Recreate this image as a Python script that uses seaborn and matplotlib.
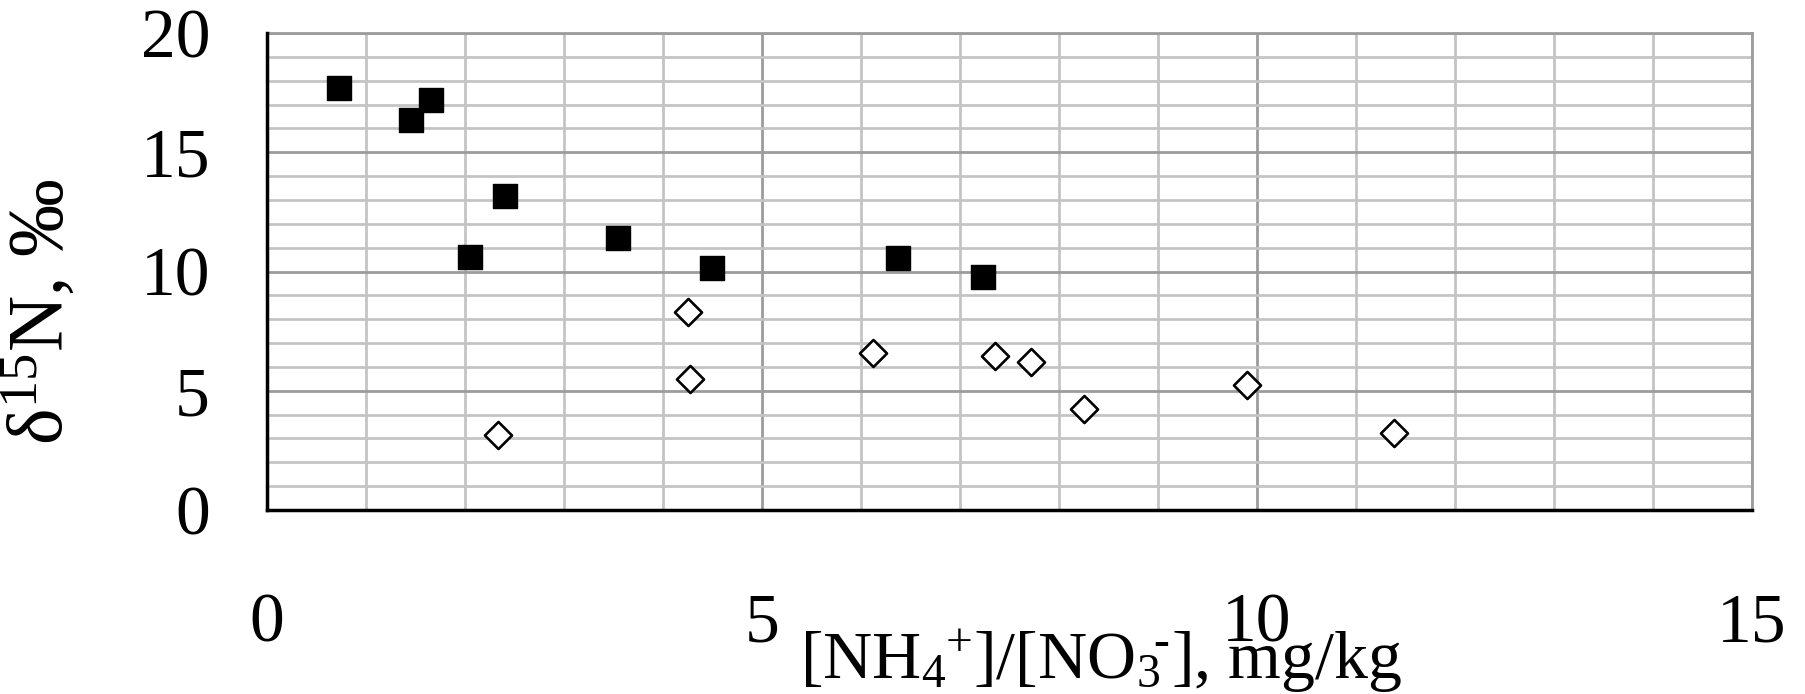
import seaborn as sns
import matplotlib.pyplot as plt
import pandas as pd

# data
sq_x = [0.73, 1.45, 1.66, 2.05, 2.40, 3.55, 4.50, 6.37, 7.23]
sq_y = [17.7, 16.35, 17.2, 10.6, 13.15, 11.4, 10.15, 10.55, 9.75]
dm_x = [2.33, 4.25, 4.27, 6.12, 7.35, 7.72, 8.25, 9.90, 11.38]
dm_y = [3.15, 8.3, 5.5, 6.58, 6.45, 6.2, 4.22, 5.23, 3.22]
x_ticks = [0, 5, 10, 15]
y_ticks = [0, 5, 10, 15, 20]

sns.set_theme(style="white")
plt.rcParams['font.family'] = ['Liberation Serif', 'DejaVu Serif']
plt.rcParams['mathtext.fontset'] = 'custom'
plt.rcParams['mathtext.rm'] = 'Liberation Serif'
plt.rcParams['mathtext.it'] = 'Liberation Serif:italic'
plt.rcParams['text.color'] = 'black'
plt.rcParams['axes.labelcolor'] = 'black'
plt.rcParams['xtick.color'] = 'black'
plt.rcParams['ytick.color'] = 'black'

df_sq = pd.DataFrame({"x": sq_x, "y": sq_y})
df_dm = pd.DataFrame({"x": dm_x, "y": dm_y})

fig = plt.figure(figsize=(18.06, 6.94), dpi=100)
ax = fig.add_axes([267/1806, 1-510/694, (1752-267)/1806, (510-33)/694])

# grid
ax.set_xticks(range(0, 16), minor=True)
ax.set_yticks(range(0, 21), minor=True)
ax.grid(which='minor', color='#c4c4c4', linewidth=2)
ax.grid(which='major', color='#9c9c9c', linewidth=2)
ax.set_axisbelow(True)

sns.scatterplot(data=df_sq, x="x", y="y", marker="s", s=310, color="black",
                edgecolor="black", linewidth=1, ax=ax, zorder=3)
sns.scatterplot(data=df_dm, x="x", y="y", marker="D", s=190, color="white",
                edgecolor="black", linewidth=1.9, ax=ax, zorder=3)

ax.set_xlim(0, 15)
ax.set_ylim(0, 20)
ax.set_xticks(x_ticks)
ax.set_yticks(y_ticks)
ax.tick_params(which='major', length=14, width=2.2, color='black',
               labelsize=50, direction='out', labelcolor='black')
ax.tick_params(axis='x', pad=46)
ax.tick_params(axis='y', pad=27)
ax.tick_params(which='minor', length=0)

for s in ['top', 'right']:
    ax.spines[s].set_color('#9c9c9c')
    ax.spines[s].set_linewidth(2)
for s in ['left', 'bottom']:
    ax.spines[s].set_color('black')
    ax.spines[s].set_linewidth(2.5)
    ax.spines[s].set_zorder(4)

ax.set_xlabel(r'[NH$_4\!{}^+\!$]/[NO$_3\!{}^{\text{-}}$], mg/kg', fontsize=49)
ax.xaxis.set_label_coords(0.5616, -0.247)
ax.set_ylabel(r'δ$^{15}$N, ‰', fontsize=56)
ax.yaxis.set_label_coords(-0.127, 0.415)

plt.savefig("out.png", dpi=100)
plt.close()
